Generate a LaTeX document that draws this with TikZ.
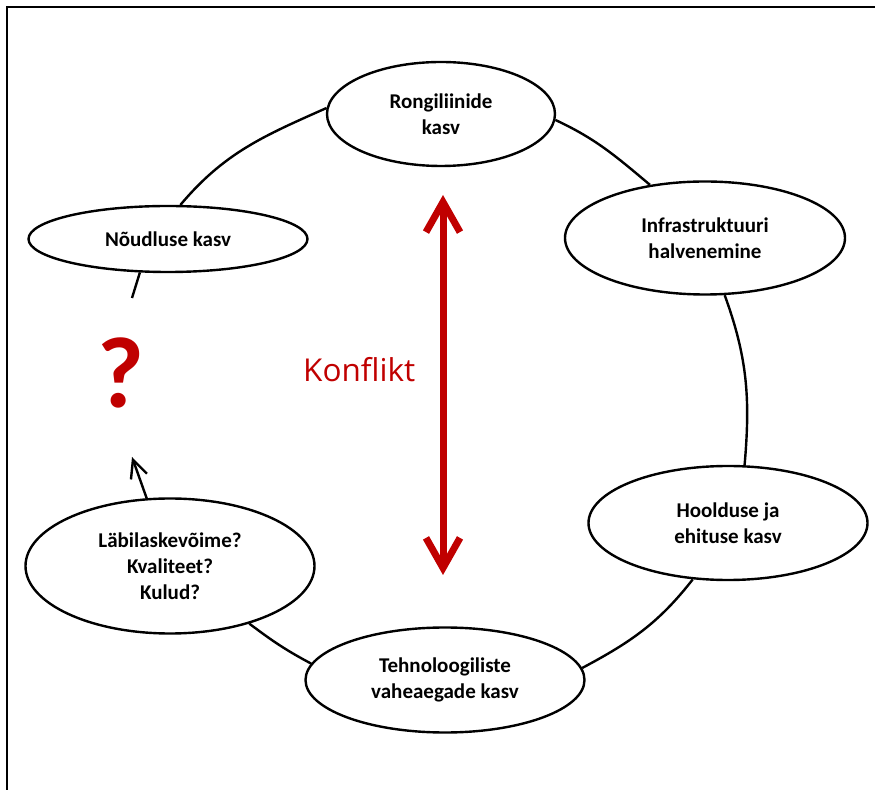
\documentclass[tikz,border=0pt]{standalone}
\usepackage{fontspec}
\setmainfont{Carlito}
\newfontfamily\konfont{Open Sans}
\usetikzlibrary{shapes.geometric,arrows.meta}
\definecolor{konred}{HTML}{C00000}
\begin{document}
\begin{tikzpicture}[x=1pt,y=1pt,
  bubble/.style={ellipse, draw=black, line width=2.4pt, fill=white, inner sep=0pt,
    align=center, font=\bfseries\fontsize{21}{26}\selectfont},
  link/.style={line width=2.4pt},
  bigarrow/.style={konred, line width=7pt,
    {Straight Barb[length=30pt,width=34pt]}-{Straight Barb[length=30pt,width=34pt]}},
]
\useasboundingbox (0,0) rectangle (875,790);
\draw[line width=2.2pt] (875,783) -- (7,783) -- (7,0);

\node[bubble, minimum width=228pt, minimum height=104pt] (rong) at (441,676) {Rongiliinide\\kasv};
\node[bubble, minimum width=279pt, minimum height=66pt] (noud) at (168,551) {Nõudluse kasv};
\node[bubble, minimum width=280pt, minimum height=113pt] (infra) at (705,552) {Infrastruktuuri\\halvenemine};
\node[bubble, minimum width=279pt, minimum height=114pt] (hool) at (728,267) {Hoolduse ja\\ehituse kasv};
\node[bubble, minimum width=279pt, minimum height=105pt] (tehn) at (445,110) {Tehnoloogiliste\\vaheaegade kasv};
\node[bubble, minimum width=289pt, minimum height=135pt] (labi) at (170,224) {Läbilaskevõime?\\Kvaliteet?\\Kulud?};

\coordinate (qtip) at (132,333);
\coordinate (qend) at (132,492);
\coordinate (rtop) at (443,595);
\coordinate (rbot) at (443,215);

\draw[link] (noud.70) to[out=50,in=204] (rong.177);
\draw[link] (rong.-3.5) to[out=-25,in=140] (infra.136);
\draw[link] (infra.-71) to[out=-70,in=85] (hool.74);
\draw[link] (hool.238) to[out=232,in=28] (tehn.5);
\draw[link] (tehn.173) to[out=152,in=-37] (labi.-36.5);
\draw[link, -{Straight Barb[length=18pt,width=17pt]}] (labi.109) -- (qtip);
\draw[link] (noud.230) -- (qend);

\draw[bigarrow] (rbot) -- (rtop);

\node[anchor=base, text=konred, font=\bfseries\fontsize{101}{104}\selectfont] (qmark) at (121,382) {?};
\node[anchor=base west, inner sep=0pt, text=konred, font=\konfont\fontsize{31.5}{37}\selectfont] (konf) at (303,408) {Konflikt};
\end{tikzpicture}
\end{document}
